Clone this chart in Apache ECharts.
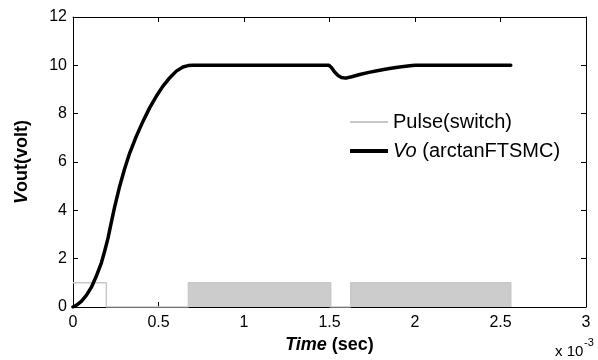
<!DOCTYPE html>
<html>
<head>
<meta charset="utf-8">
<script src="https://cdn.jsdelivr.net/npm/echarts@6/dist/echarts.min.js"></script>
<style>
  html, body { margin: 0; padding: 0; background: #fff; }
  #chart { width: 598px; height: 360px; }
</style>
</head>
<body>
<div id="chart"></div>
<script>
// time in units of 1e-3 s
const voT = [0, 0.0195, 0.0487, 0.078, 0.107, 0.136, 0.166, 0.185, 0.205, 0.224, 0.244, 0.273, 0.302, 0.331, 0.37, 0.409, 0.448, 0.487, 0.526, 0.565, 0.604, 0.643, 0.673, 0.7,
  1.497, 1.51, 1.53, 1.55, 1.57, 1.595, 1.63, 1.677, 1.73, 1.794, 1.85, 1.91, 1.97, 2.0, 2.56]
const voV = [0, 0.07, 0.235, 0.48, 0.81, 1.27, 1.83, 2.31, 2.86, 3.5, 4.15, 5.0, 5.72, 6.36, 7.06, 7.68, 8.24, 8.72, 9.14, 9.48, 9.76, 9.93, 9.99, 10,
  10, 9.92, 9.72, 9.58, 9.5, 9.47, 9.53, 9.62, 9.71, 9.8, 9.87, 9.93, 9.98, 10, 10]

const pulseT = [0, 0.195, 0.195, 0.675, 0.675, 1.507, 1.507, 1.624, 1.624, 2.56, 2.56]
const pulseV = [1, 1, 0, 0, 1, 1, 0, 0, 1, 1, 0]

// fast switching intervals (drawn as filled bands)
const switchBands = [[0.675, 1.507], [1.624, 2.56]]
const switchLevel = 1

const xTicks = [0, 0.5, 1, 1.5, 2, 2.5, 3]
const yTicks = [0, 2, 4, 6, 8, 10, 12]

const FONT = 'Liberation Sans, Arial, sans-serif'

const chart = echarts.init(document.getElementById('chart'))

const tickStyle = { show: true, inside: true, length: 5, lineStyle: { color: '#000', width: 1 } }
const lineStyle = { show: true, onZero: false, lineStyle: { color: '#000', width: 1 } }

const option = {
  animation: false,
  grid: { left: 73, top: 17, right: 12, bottom: 53 },
  legend: [
    {
      data: ['Pulse(switch)'],
      left: 350, top: 112, padding: 0,
      icon: 'rect', itemWidth: 38, itemHeight: 2, itemGap: 0,
      textStyle: { fontFamily: FONT, fontSize: 20, color: '#000' }
    },
    {
      data: ['Vo (arctanFTSMC)'],
      left: 350, top: 141, padding: 0,
      icon: 'rect', itemWidth: 38, itemHeight: 4, itemGap: 0,
      formatter: () => '{i|Vo} (arctanFTSMC)',
      textStyle: {
        fontFamily: FONT, fontSize: 20, color: '#000',
        rich: { i: { fontFamily: FONT, fontSize: 20, fontStyle: 'italic', color: '#000' } }
      }
    }
  ],
  xAxis: [
    {
      type: 'value', min: 0, max: 3, interval: 0.5,
      axisLine: lineStyle, axisTick: tickStyle, splitLine: { show: false },
      axisLabel: {
        fontFamily: FONT, fontSize: 16, color: '#000', margin: 8,
        formatter: v => xTicks.includes(v) ? String(v) : ''
      },
      name: '{i|Time} (sec)',
      nameLocation: 'middle', nameGap: 28,
      nameTextStyle: {
        fontFamily: FONT, fontSize: 18, fontWeight: 'bold', color: '#000',
        rich: { i: { fontFamily: FONT, fontSize: 18, fontWeight: 'bold', fontStyle: 'italic', color: '#000' } }
      }
    },
    {
      type: 'value', position: 'top', min: 0, max: 3, interval: 0.5,
      axisLine: lineStyle, axisTick: tickStyle, axisLabel: { show: false }, splitLine: { show: false }
    }
  ],
  yAxis: [
    {
      type: 'value', min: 0, max: 12, interval: 2,
      axisLine: lineStyle, axisTick: tickStyle, splitLine: { show: false },
      axisLabel: {
        fontFamily: FONT, fontSize: 16, color: '#000', margin: 6,
        formatter: v => yTicks.includes(v) ? String(v) : ''
      },
      name: '{i|V}out(volt)',
      nameLocation: 'middle', nameGap: 42,
      nameTextStyle: {
        fontFamily: FONT, fontSize: 18, fontWeight: 'bold', color: '#000',
        rich: { i: { fontFamily: FONT, fontSize: 18, fontWeight: 'bold', fontStyle: 'italic', color: '#000' } }
      }
    },
    {
      type: 'value', position: 'right', min: 0, max: 12, interval: 2,
      axisLine: lineStyle, axisTick: tickStyle, axisLabel: { show: false }, splitLine: { show: false }
    }
  ],
  graphic: [
    { type: 'text', left: 555, top: 344, style: { text: 'x 10', fontFamily: FONT, fontSize: 15, fill: '#000' } },
    { type: 'text', left: 584, top: 337, style: { text: '-3', fontFamily: FONT, fontSize: 11, fill: '#000' } }
  ],
  series: [
    {
      name: 'Pulse(switch)',
      type: 'line',
      symbol: 'none',
      color: '#c8c8c8',
      lineStyle: { color: '#c8c8c8', width: 1.5 },
      data: pulseT.map((t, i) => [t, pulseV[i]]),
      markArea: {
        silent: true,
        itemStyle: { color: '#cccccc', opacity: 1 },
        data: switchBands.map(b => [{ xAxis: b[0], yAxis: 0 }, { xAxis: b[1], yAxis: switchLevel }])
      },
      z: 3
    },
    {
      name: 'Vo (arctanFTSMC)',
      type: 'line',
      symbol: 'none',
      color: '#000',
      lineStyle: { color: '#000', width: 3.5, join: 'round', cap: 'round' },
      data: voT.map((t, i) => [t, voV[i]]),
      z: 4
    }
  ]
}

chart.setOption(option)
</script>
</body>
</html>
